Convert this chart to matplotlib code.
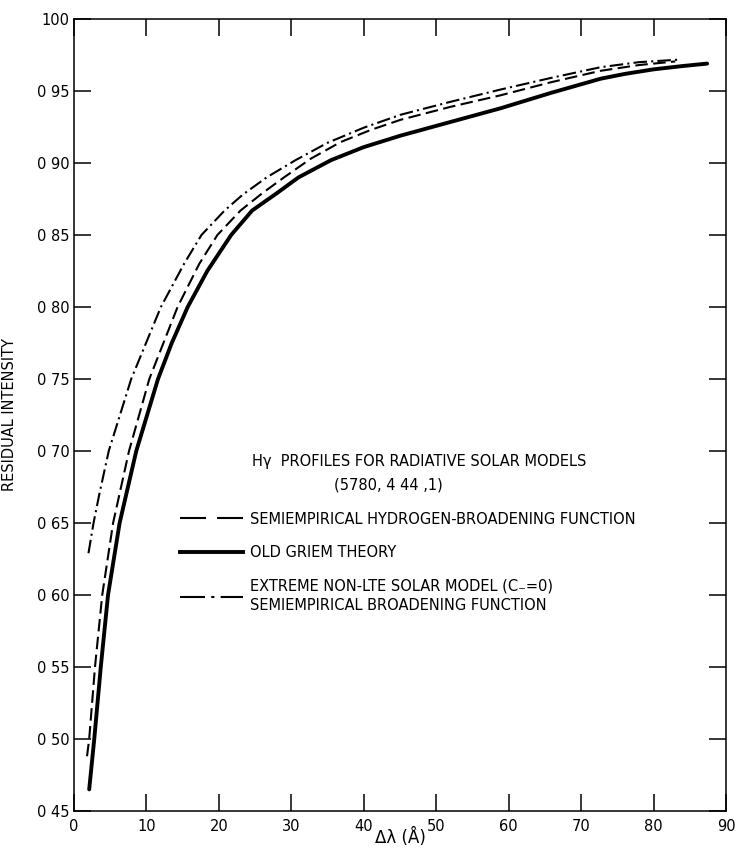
import matplotlib
matplotlib.use("Agg")
import matplotlib.pyplot as plt
from matplotlib.lines import Line2D

# (delta lambda in A, residual intensity)
dl_semi = [1.8, 2.1, 2.9, 3.9, 5.4, 7.6, 10.4, 14.3, 17.3, 19.8, 23.0, 26.0, 29.0,
           32.7, 36.8, 41.0, 45.1, 52.0, 58.9, 65.8, 72.7, 78.0, 83.0]
ri_semi = [0.488, 0.50, 0.55, 0.60, 0.65, 0.70, 0.75, 0.80, 0.83, 0.85, 0.867,
           0.879, 0.890, 0.903, 0.9145, 0.923, 0.930, 0.939, 0.947, 0.956, 0.964,
           0.968, 0.9705]

dl_griem = [2.1, 2.8, 3.7, 4.7, 6.3, 8.6, 11.6, 13.5, 15.7, 18.4, 21.7, 24.6, 28.0,
            31.0, 35.5, 40.0, 45.1, 52.0, 58.9, 65.8, 72.7, 76.0, 80.0, 84.0, 87.4]
ri_griem = [0.465, 0.50, 0.55, 0.60, 0.65, 0.70, 0.75, 0.775, 0.80, 0.825, 0.85,
            0.867, 0.879, 0.890, 0.902, 0.911, 0.919, 0.9285, 0.938, 0.9486, 0.9585,
            0.9618, 0.965, 0.9673, 0.969]

dl_nlte = [2.0, 2.7, 3.5, 4.8, 7.9, 12.0, 15.2, 17.6, 20.8, 23.3, 26.6, 30.6, 35.0,
           40.0, 45.1, 52.0, 58.9, 65.8, 72.7, 78.0, 83.7]
ri_nlte = [0.629, 0.65, 0.67, 0.70, 0.75, 0.80, 0.83, 0.85, 0.867, 0.878, 0.890,
           0.902, 0.914, 0.9245, 0.9335, 0.9425, 0.951, 0.959, 0.9665, 0.970, 0.9718]

y_ticks = [0.45, 0.50, 0.55, 0.60, 0.65, 0.70, 0.75, 0.80, 0.85, 0.90, 0.95, 1.00]
y_ticklabels = ["0 45", "0 50", "0 55", "0 60", "0 65", "0 70", "0 75", "0 80",
                "0 85", "0 90", "0 95", "100"]
x_ticks = [0, 10, 20, 30, 40, 50, 60, 70, 80, 90]

labels = ["SEMIEMPIRICAL HYDROGEN-BROADENING FUNCTION",
          "OLD GRIEM THEORY",
          "EXTREME NON-LTE SOLAR MODEL (C\u208b=0)\nSEMIEMPIRICAL BROADENING FUNCTION"]


def main():
    plt.rcParams['font.family'] = ['DejaVu Sans']
    fig = plt.figure(figsize=(7.42, 8.5), dpi=100)
    ax = fig.add_axes([0.0997, 0.0459, 0.8787, 0.9318])

    ax.plot(dl_semi, ri_semi, color="black", lw=1.5, dashes=(6, 2.6))
    ax.plot(dl_griem, ri_griem, color="black", lw=2.8, solid_capstyle="round",
            solid_joinstyle="round")
    ax.plot(dl_nlte, ri_nlte, color="black", lw=1.5, dashes=(6.5, 2, 1, 2))

    ax.set_xlim(0, 90)
    ax.set_ylim(0.45, 1.00)
    ax.set_xticks(x_ticks)
    ax.set_yticks(y_ticks)
    ax.set_yticklabels(y_ticklabels)
    ax.tick_params(direction="in", length=12, width=1.1, top=True, right=True,
                   labelsize=10.5, colors="black")
    ax.tick_params(axis="y", pad=3)
    ax.tick_params(axis="x", pad=6)
    for s in ax.spines.values():
        s.set_linewidth(1.1)

    ax.set_ylabel("RESIDUAL INTENSITY", fontsize=10.5)
    ax.yaxis.set_label_coords(-0.087, 0.5)
    ax.set_xlabel("\u0394\u03bb (\u00c5)", fontsize=12)
    ax.xaxis.set_label_coords(0.5, -0.022)

    ax.text(0.529, 0.4407, "H\u03b3  PROFILES FOR RADIATIVE SOLAR MODELS",
            transform=ax.transAxes, ha="center", va="center", fontsize=10.5)
    ax.text(0.4816, 0.4116, "(5780, 4 44 ,1)", transform=ax.transAxes,
            ha="center", va="center", fontsize=10.5)

    handles = [Line2D([], [], color="black", lw=1.5, dashes=(12.5, 5.3)),
               Line2D([], [], color="black", lw=2.8),
               Line2D([], [], color="black", lw=1.5, dashes=(12, 3, 1.5, 3))]
    leg = ax.legend(handles, labels, loc="upper left", bbox_to_anchor=(0.1626, 0.378),
                    frameon=False, fontsize=10.5, handlelength=4.3, handletextpad=0.48,
                    labelspacing=1.25, borderpad=0, borderaxespad=0)
    for t in leg.get_texts():
        t.set_linespacing(1.45)

    fig.savefig("out.png", dpi=100)


if __name__ == '__main__':
    main()
